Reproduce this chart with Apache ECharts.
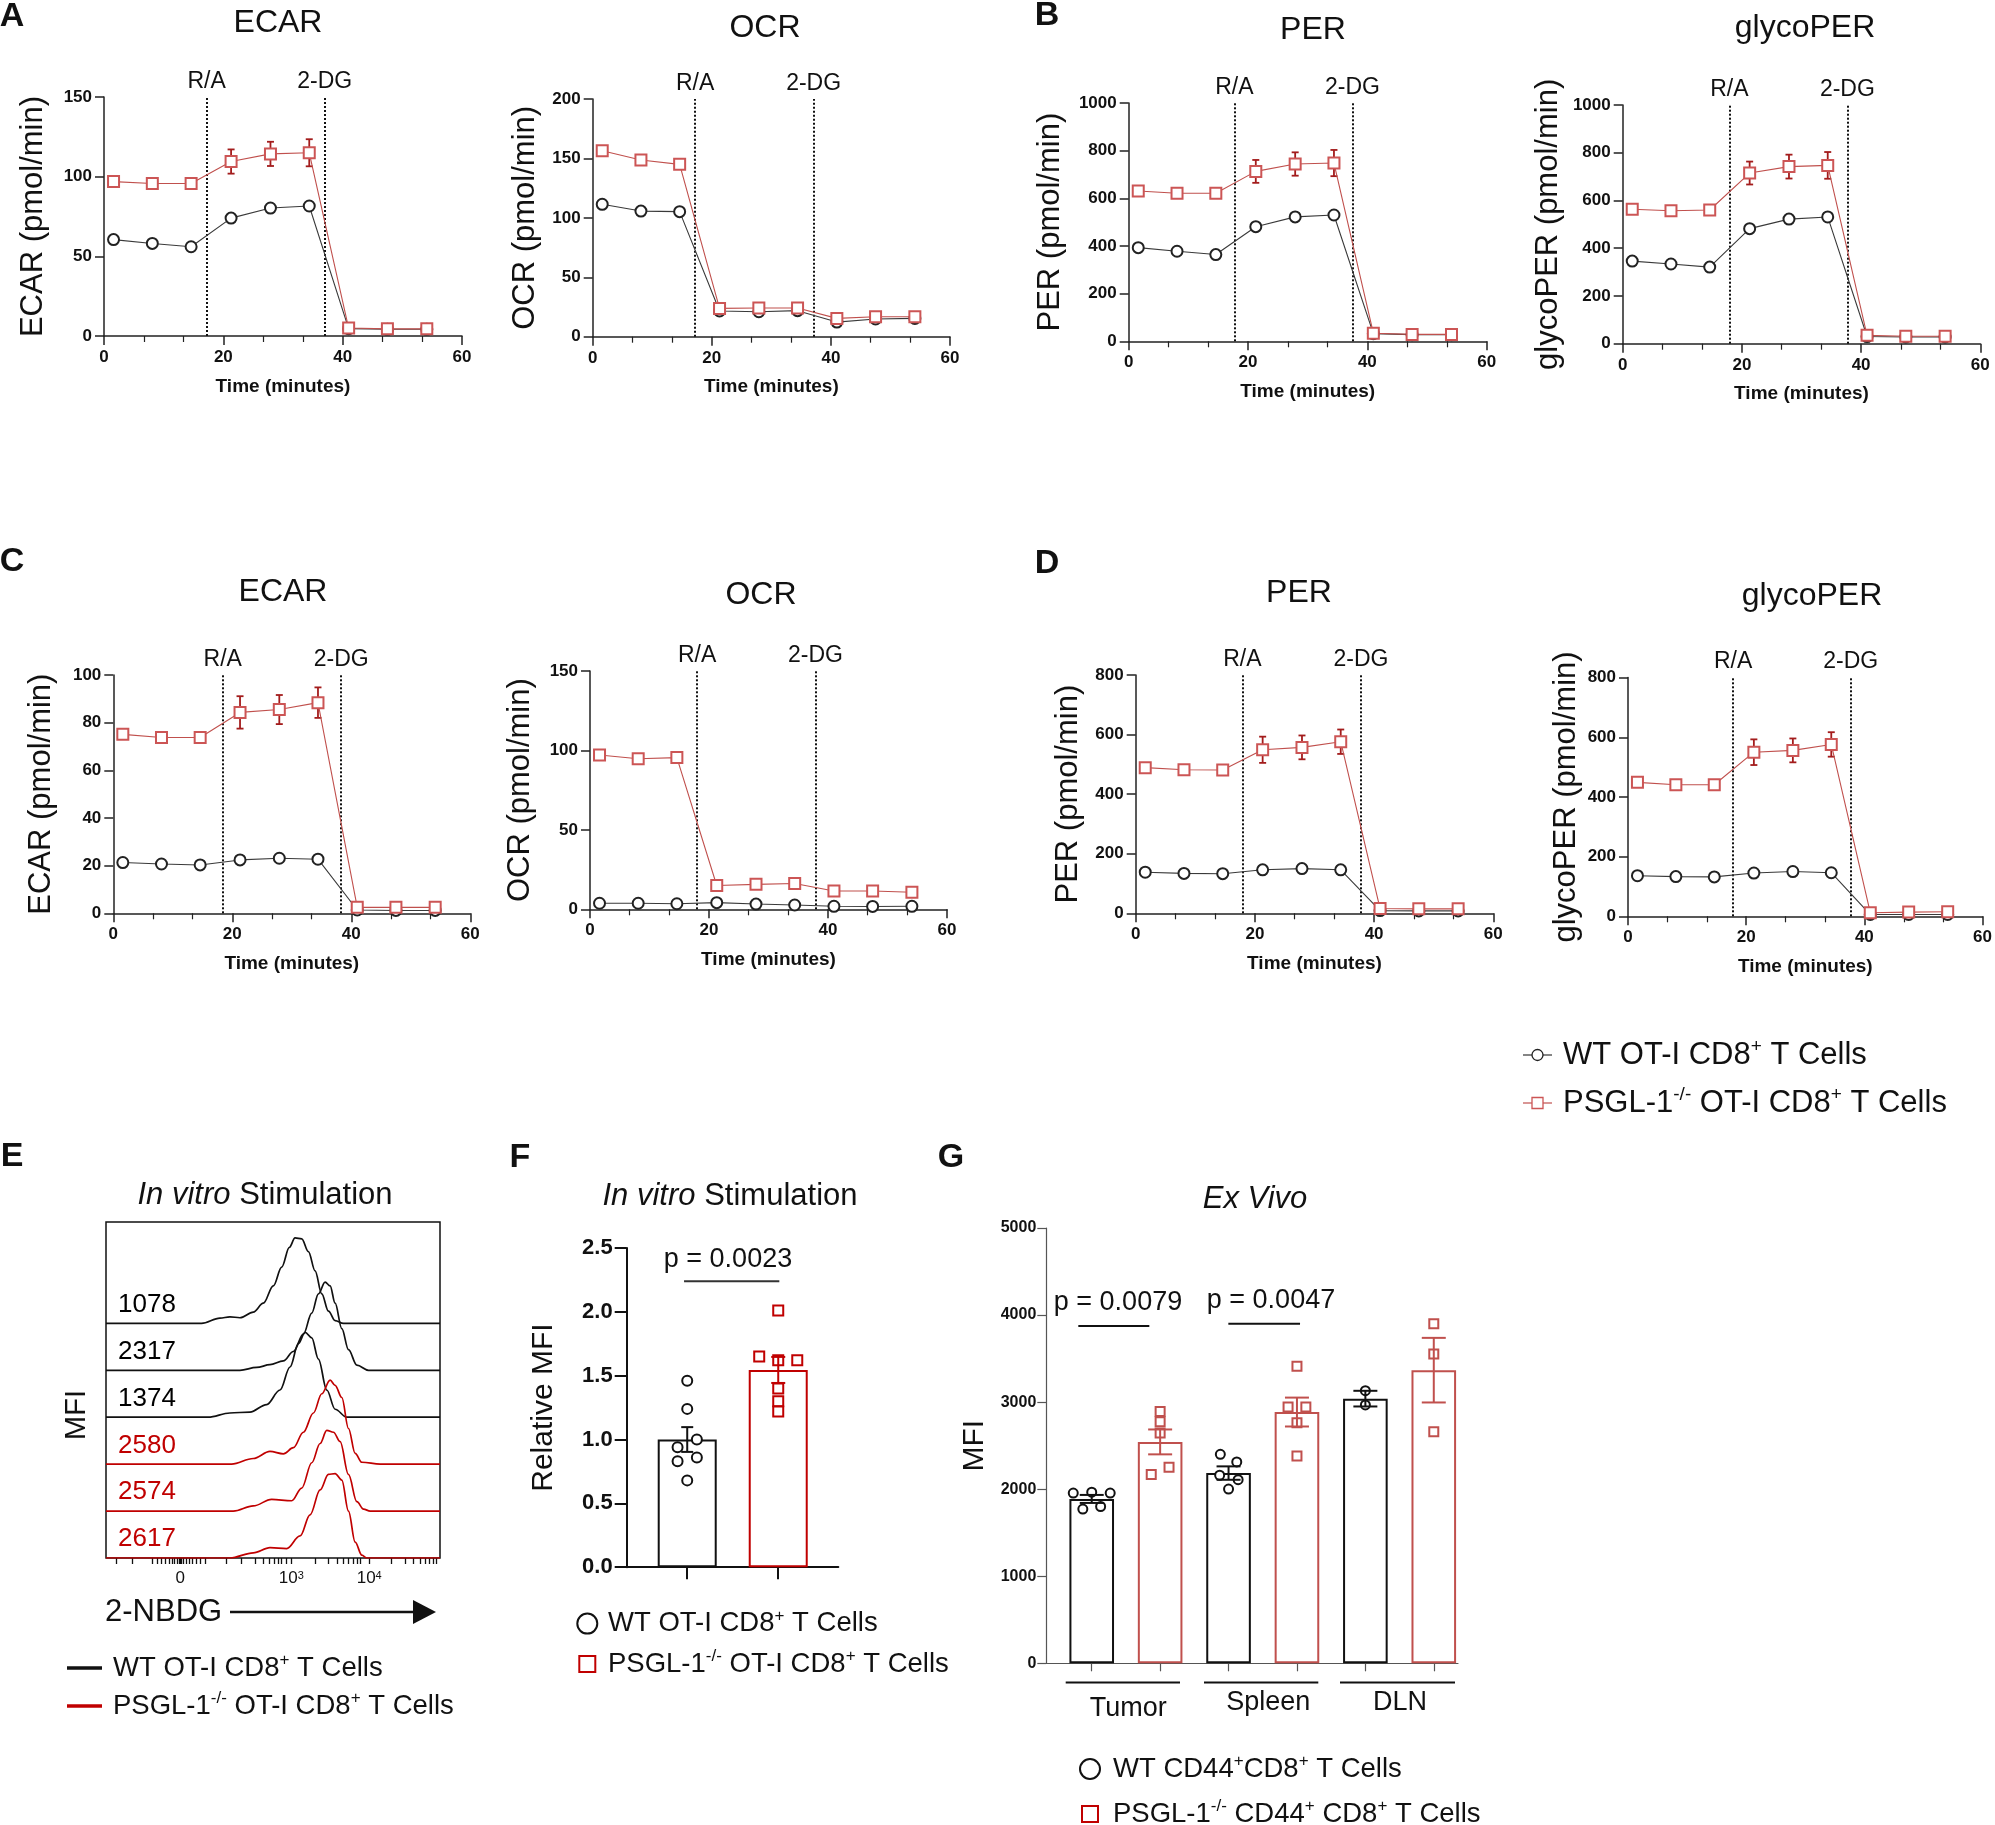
<!DOCTYPE html>
<html>
<head>
<meta charset="UTF-8">
<title>PSGL-1 metabolism figure</title>
<style>
  html, body { margin: 0; padding: 0; background: #fff; }
  #main { width: 1995px; height: 1825px; }
</style>
<script src="https://cdn.jsdelivr.net/npm/echarts@6/dist/echarts.min.js"></script>
</head>
<body>
<div id="main"></div>
<script>
// ---------- Seahorse measurement times (minutes) ----------
var times = [1.6, 8.1, 14.6, 21.3, 27.9, 34.4, 41.0, 47.5, 54.1];

// A - ECAR / OCR
var ecarA_wt = [60.5, 58.1, 56.0, 74.0, 80.3, 81.6, 4.6, 4.2, 4.2];
var ecarA_wtSem = [1.5, 1.2, 1.2, 2.5, 2.5, 2.5, 0.8, 0.8, 0.8];
var ecarA_ko = [96.9, 95.7, 95.7, 109.5, 114.3, 115.0, 5.0, 4.5, 4.5];
var ecarA_koSem = [1.2, 1.0, 1.0, 7.6, 7.6, 8.5, 0.8, 0.8, 0.8];
var ocrA_wt = [111.4, 105.7, 105.2, 21.6, 21.0, 21.9, 12.3, 14.9, 15.4];
var ocrA_wtSem = [1.5, 1.5, 1.5, 1.0, 1.0, 1.0, 1.0, 1.0, 1.0];
var ocrA_ko = [156.5, 148.7, 145.0, 23.8, 24.1, 24.1, 15.4, 16.8, 16.8];
var ocrA_koSem = [1.5, 1.5, 1.5, 1.0, 1.0, 1.0, 1.0, 1.0, 1.0];

// B - PER / glycoPER
var perB_wt = [393, 378, 364, 481, 522, 530, 32, 28, 28];
var perB_wtSem = [8, 8, 8, 15, 15, 15, 3, 3, 3];
var perB_ko = [631, 621, 621, 713, 744, 748, 34, 29, 29];
var perB_koSem = [8, 8, 8, 48, 49, 55, 3, 3, 3];
var gperB_wt = [346, 334, 321, 482, 522, 531, 30, 28, 28];
var gperB_wtSem = [8, 8, 8, 15, 15, 15, 3, 3, 3];
var gperB_ko = [563, 557, 560, 715, 742, 747, 35, 31, 31];
var gperB_koSem = [8, 8, 8, 48, 50, 56, 3, 3, 3];

// C - ECAR / OCR
var ecarC_wt = [21.3, 20.7, 20.3, 22.4, 23.1, 22.7, 1.4, 1.2, 1.2];
var ecarC_wtSem = [1.2, 1.2, 1.2, 0.6, 0.6, 0.6, 0.3, 0.3, 0.3];
var ecarC_ko = [75.1, 73.8, 73.8, 84.3, 85.5, 88.4, 2.5, 2.5, 2.5];
var ecarC_koSem = [0.8, 0.8, 0.8, 6.8, 6.1, 6.4, 0.4, 0.4, 0.4];
var ocrC_wt = [3.8, 3.8, 3.5, 4.2, 3.3, 2.7, 1.9, 1.8, 1.9];
var ocrC_wtSem = [0.3, 0.3, 0.3, 0.3, 0.3, 0.3, 0.2, 0.2, 0.2];
var ocrC_ko = [97.1, 94.8, 95.5, 15.0, 15.7, 16.2, 11.5, 11.5, 10.7];
var ocrC_koSem = [2.4, 2.4, 2.4, 0.8, 0.8, 0.8, 0.6, 0.6, 0.6];

// D - PER / glycoPER
var perD_wt = [138, 134, 133, 146, 150, 146, 9, 8, 8];
var perD_wtSem = [4, 4, 4, 4, 4, 4, 2, 2, 2];
var perD_ko = [489, 482, 481, 549, 557, 576, 16, 15, 15];
var perD_koSem = [6, 6, 6, 44, 40, 41, 2, 2, 2];
var gperD_wt = [136, 133, 132, 145, 150, 146, 6, 6, 6];
var gperD_wtSem = [4, 4, 4, 4, 4, 4, 2, 2, 2];
var gperD_ko = [449, 441, 441, 550, 556, 576, 12, 14, 15];
var gperD_koSem = [6, 6, 6, 43, 40, 41, 2, 2, 2];

// injection times (R/A, 2-DG) as drawn in each panel
var injA1 = [17.2, 37.0], injA2 = [17.2, 37.1], injB1 = [17.7, 37.5], injB2 = [17.9, 37.7];
var injC1 = [18.4, 38.3], injC2 = [18.0, 37.9], injD1 = [17.9, 37.8], injD2 = [17.8, 37.7];

// E - 2-NBDG histograms (x: display channel 0-100, y: relative height)
var histMfi = ['1078', '2317', '1374', '2580', '2574', '2617'];
var histKo = [false, false, false, true, true, true];
var hist1 = [[0,0],[28.6,0],[34.1,0.11],[37.1,0.14],[40.1,0.12],[44.1,0.24],[47.1,0.43],[50.1,0.8],[52.6,1.2],[54.9,1.62],[56.6,1.82],[58.6,1.8],[60.6,1.53],[62.6,1.12],[64.6,0.63],[66.6,0.26],[68.6,0.06],[71.1,0],[100,0]];
var hist2 = [[0,0],[40.1,0],[45.1,0.06],[49.1,0.12],[53.1,0.2],[56.1,0.4],[59.1,0.77],[61.6,1.22],[63.6,1.63],[65.6,1.88],[67.1,1.8],[68.6,1.43],[70.6,0.89],[72.6,0.44],[75.1,0.11],[78.6,0],[100,0]];
var hist3 = [[0,0],[30.6,0],[37.1,0.09],[43.1,0.11],[48.1,0.27],[52.1,0.58],[55.1,1.07],[57.6,1.57],[59.6,1.81],[61.6,1.69],[63.6,1.24],[66.1,0.58],[68.6,0.17],[72.1,0],[100,0]];
var hist4 = [[0,0],[37.6,0],[44.1,0.12],[49.1,0.27],[53.1,0.22],[56.1,0.35],[59.1,0.68],[62.1,1.09],[64.6,1.5],[67.1,1.79],[68.6,1.68],[70.6,1.42],[72.6,0.76],[74.6,0.23],[76.6,0.04],[82.1,0],[100,0]];
var hist5 = [[0,0],[38.1,0],[44.1,0.11],[49.6,0.25],[55.6,0.22],[58.6,0.49],[61.6,1.03],[64.1,1.44],[66.1,1.72],[68.1,1.68],[70.1,1.48],[72.6,0.78],[75.1,0.2],[77.1,0.04],[79.1,0],[100,0]];
var hist6 = [[0,0],[37.1,0],[44.1,0.11],[49.1,0.22],[54.1,0.2],[58.1,0.47],[61.1,0.92],[64.1,1.45],[66.6,1.78],[68.6,1.8],[70.6,1.66],[72.6,1.0],[74.6,0.34],[76.6,0.06],[78.1,0],[100,0]];
var histCurves = [hist1, hist2, hist3, hist4, hist5, hist6];
var eTicks = [3.2, 8.0, 13.8, 15.3, 16.6, 17.8, 18.8, 19.7, 20.5, 21.2, 21.8, 22.2, 22.6, 23.2, 23.9, 24.8, 25.8, 27.0, 28.3, 29.6,
  36.1, 40.6, 44.6, 47.1, 48.9, 50.3, 51.6, 52.6, 53.9, 55.5, 62.6, 66.6, 69.3, 71.1, 72.6, 73.9, 75.1, 76.0, 78.8,
  85.5, 89.5, 92.0, 94.0, 95.5, 96.8, 98.0, 99.0];
var eLabelVals = [22.2, 55.5, 78.8];
var eLabelText = ['0', '10{s|3}', '10{s|4}'];

// F - relative MFI, in vitro
var fMean = [1.00, 1.545];
var fSem = [0.097, 0.102];
var fWtPoints = [1.46, 1.24, 0.94, 1.00, 0.83, 0.86, 0.68];
var fWtSpread = [0, 0, -0.106, 0.106, -0.106, 0.106, 0];
var fKoPoints = [2.01, 1.65, 1.62, 1.62, 1.40, 1.30, 1.22];
var fKoSpread = [0, -0.209, 0.209, 0, 0, 0, 0];

// G - MFI ex vivo
var gTissues = ['Tumor', 'Spleen', 'DLN'];
var gWtMean = [1888, 2185, 3040];
var gWtSem = [46, 77, 90];
var gKoMean = [2543, 2886, 3367];
var gKoSem = [143, 166, 371];
var gWtPoints = [[1955, 1965, 1955, 1771, 1801], [2400, 2313, 2160, 2109, 2001], [3132, 2968]];
var gWtSpread = [[-0.27, 0, 0.27, -0.13, 0.13], [-0.12, 0.12, -0.13, 0.14, 0], [0, 0]];
var gKoPoints = [[2892, 2774, 2646, 2252, 2170], [3413, 2943, 2943, 2764, 2380], [3900, 3552, 2661]];
var gKoSpread = [[0, 0, 0, 0.13, -0.13], [0, -0.13, 0.13, 0, 0], [0, 0, 0]];

// ---------- styling ----------
var FONT = '"Liberation Sans", Arial, Helvetica, sans-serif';
var INK = '#111';
var RED = '#c0504d';
var RED_DARK = '#a31c1c';
var DEEP_RED = '#c00000';

var linePanels = [
  {x: 104, y: 97, w: 358, h: 239, max: 150, step: 50, name: 'ECAR (pmol/min)', gap: 55, wt: ecarA_wt, wtSem: ecarA_wtSem, ko: ecarA_ko, koSem: ecarA_koSem, inj: injA1},
  {x: 592.7, y: 99, w: 357.3, h: 237.7, max: 200, step: 50, name: 'OCR (pmol/min)', gap: 52, wt: ocrA_wt, wtSem: ocrA_wtSem, ko: ocrA_ko, koSem: ocrA_koSem, inj: injA2},
  {x: 1128.7, y: 103, w: 358, h: 238.3, max: 1000, step: 200, name: 'PER (pmol/min)', gap: 63, wt: perB_wt, wtSem: perB_wtSem, ko: perB_ko, koSem: perB_koSem, inj: injB1},
  {x: 1622.7, y: 105, w: 357.6, h: 238.7, max: 1000, step: 200, name: 'glycoPER (pmol/min)', gap: 59, wt: gperB_wt, wtSem: gperB_wtSem, ko: gperB_ko, koSem: gperB_koSem, inj: injB2},
  {x: 113.3, y: 675, w: 357, h: 238.3, max: 100, step: 20, name: 'ECAR (pmol/min)', gap: 56, wt: ecarC_wt, wtSem: ecarC_wtSem, ko: ecarC_ko, koSem: ecarC_koSem, inj: injC1},
  {x: 590, y: 671, w: 357, h: 238.3, max: 150, step: 50, name: 'OCR (pmol/min)', gap: 54, wt: ocrC_wt, wtSem: ocrC_wtSem, ko: ocrC_ko, koSem: ocrC_koSem, inj: injC2},
  {x: 1135.7, y: 675, w: 357.6, h: 238.3, max: 800, step: 200, name: 'PER (pmol/min)', gap: 52, wt: perD_wt, wtSem: perD_wtSem, ko: perD_ko, koSem: perD_koSem, inj: injD1},
  {x: 1628, y: 677.6, w: 357.7, h: 238.7, max: 800, step: 200, name: 'glycoPER (pmol/min)', gap: 46, wt: gperD_wt, wtSem: gperD_wtSem, ko: gperD_ko, koSem: gperD_koSem, inj: injD2}
];

function zip(xs, ys) { return xs.map(function (x, i) { return [x, ys[i]]; }); }
function errData(xs, ys, es) { return xs.map(function (x, i) { return [x, ys[i] - es[i], ys[i] + es[i]]; }); }
function plain(v) { return String(v); }

function errorBars(axis, data, color, half, width, z) {
  return {
    type: 'custom', xAxisIndex: axis, yAxisIndex: axis, data: data, silent: true, z: z, clip: false,
    renderItem: function (params, api) {
      var top = api.coord([api.value(0), api.value(2)]);
      var bot = api.coord([api.value(0), api.value(1)]);
      var st = {stroke: color, lineWidth: width};
      return {type: 'group', children: [
        {type: 'line', shape: {x1: top[0], y1: top[1], x2: bot[0], y2: bot[1]}, style: st},
        {type: 'line', shape: {x1: top[0] - half, y1: top[1], x2: top[0] + half, y2: top[1]}, style: st},
        {type: 'line', shape: {x1: bot[0] - half, y1: bot[1], x2: bot[0] + half, y2: bot[1]}, style: st}
      ]};
    }
  };
}
function bracket(axis, pts, color) {
  return {
    type: 'line', xAxisIndex: axis, yAxisIndex: axis, data: pts, symbol: 'none', silent: true, z: 3,
    lineStyle: {color: color, width: 2}
  };
}

var grids = [], xAxes = [], yAxes = [], series = [];
var axisLineStyle = {color: '#222', width: 1.5};

linePanels.forEach(function (p, i) {
  grids.push({left: p.x, top: p.y, width: p.w, height: p.h});
  xAxes.push({
    gridIndex: i, type: 'value', min: 0, max: 60, interval: 20,
    axisLine: {onZero: false, lineStyle: axisLineStyle},
    axisTick: {length: 9, lineStyle: axisLineStyle},
    minorTick: {show: true, splitNumber: 3, length: 6, lineStyle: {color: '#222', width: 1.2}},
    splitLine: {show: false},
    axisLabel: {fontSize: 17, fontWeight: 'bold', color: INK, margin: 13, fontFamily: FONT},
    name: 'Time (minutes)', nameLocation: 'middle', nameGap: 41,
    nameTextStyle: {fontSize: 19, fontWeight: 'bold', color: INK, fontFamily: FONT}
  });
  yAxes.push({
    gridIndex: i, type: 'value', min: 0, max: p.max, interval: p.step,
    axisLine: {show: true, onZero: false, lineStyle: axisLineStyle},
    axisTick: {show: true, length: 9, lineStyle: axisLineStyle},
    splitLine: {show: false},
    axisLabel: {fontSize: 17, fontWeight: 'bold', color: INK, margin: 12, fontFamily: FONT, formatter: plain},
    name: p.name, nameLocation: 'middle', nameGap: p.gap,
    nameTextStyle: {fontSize: 31, color: INK, fontFamily: FONT}
  });
  series.push({
    type: 'line', xAxisIndex: i, yAxisIndex: i, data: zip(times, p.wt),
    symbol: 'emptyCircle', symbolSize: 11, z: 5,
    lineStyle: {color: '#3a3a3a', width: 1.1}, itemStyle: {color: '#222', borderWidth: 1.3},
    markLine: {
      silent: true, symbol: ['none', 'none'],
      lineStyle: {color: INK, type: [2, 2], width: 2},
      label: {show: true, position: 'end', formatter: '{b}', fontSize: 23, color: INK, distance: 4, fontFamily: FONT},
      data: [{name: 'R/A', xAxis: p.inj[0]}, {name: '2-DG', xAxis: p.inj[1]}]
    }
  });
  series.push({
    type: 'line', xAxisIndex: i, yAxisIndex: i, data: zip(times, p.ko),
    symbol: 'emptyRect', symbolSize: 11, z: 5,
    lineStyle: {color: RED, width: 1.1}, itemStyle: {color: '#cc5555', borderWidth: 1.3}
  });
  series.push(errorBars(i, errData(times, p.wt, p.wtSem), '#222', 3.5, 1.6, 4));
  series.push(errorBars(i, errData(times, p.ko, p.koSem), RED_DARK, 3.5, 1.8, 4));
});

// ---------- E : histograms (grid 8) ----------
var E = 8;
grids.push({left: 106, top: 1222, width: 334, height: 336, show: true, borderColor: INK, borderWidth: 1.5, backgroundColor: 'transparent'});
xAxes.push({
  gridIndex: E, type: 'value', min: 0, max: 100, position: 'bottom',
  axisLine: {show: false, onZero: false},
  axisTick: {show: true, customValues: eTicks, length: 6, lineStyle: {color: INK, width: 1.3}},
  axisLabel: {
    show: true, customValues: eLabelVals, margin: 12, fontSize: 17, color: INK, fontFamily: FONT,
    formatter: function (v) {
      var k = 0, best = 1e9;
      eLabelVals.forEach(function (lv, j) { if (Math.abs(lv - v) < best) { best = Math.abs(lv - v); k = j; } });
      return eLabelText[k];
    },
    rich: {s: {fontSize: 11, color: INK, verticalAlign: 'top', lineHeight: 10, fontFamily: FONT}}
  },
  splitLine: {show: false}
});
yAxes.push({gridIndex: E, type: 'value', min: 0, max: 7.16, show: false});
histCurves.forEach(function (c, r) {
  var base = 5 - r;
  series.push({
    type: 'line', xAxisIndex: E, yAxisIndex: E, symbol: 'none', smooth: 0.35, smoothMonotone: 'x',
    data: c.map(function (pt) { return [pt[0], pt[1] + base]; }),
    lineStyle: {color: histKo[r] ? DEEP_RED : '#111', width: 1.7}, z: 4
  });
});
series.push({
  type: 'scatter', xAxisIndex: E, yAxisIndex: E, symbolSize: 0, silent: true, z: 6,
  itemStyle: {opacity: 1},
  data: histMfi.map(function (m, r) { return [3.6, 5 - r + 0.4]; }),
  label: {
    show: true, position: 'right', distance: 0,
    formatter: function (p) { return (histKo[p.dataIndex] ? '{k|' : '{w|') + histMfi[p.dataIndex] + '}'; },
    rich: {
      w: {fontSize: 26, fontFamily: FONT, color: '#000'},
      k: {fontSize: 26, fontFamily: FONT, color: DEEP_RED}
    }
  }
});

// ---------- F : relative MFI (grid 9) ----------
var F = 9;
grids.push({left: 626.7, top: 1248, width: 211.6, height: 319.2});
xAxes.push({
  gridIndex: F, type: 'value', min: -0.665, max: 1.66,
  axisLine: {onZero: false, lineStyle: {color: INK, width: 2}},
  axisTick: {show: true, customValues: [0, 1], length: 12, lineStyle: {color: INK, width: 2}},
  axisLabel: {show: false}, splitLine: {show: false}
});
yAxes.push({
  gridIndex: F, type: 'value', min: 0, max: 2.5, interval: 0.5,
  axisLine: {show: true, onZero: false, lineStyle: {color: INK, width: 2}},
  axisTick: {show: true, length: 12, lineStyle: {color: INK, width: 2}},
  splitLine: {show: false},
  axisLabel: {fontSize: 22, fontWeight: 'bold', color: INK, margin: 14, fontFamily: FONT,
    formatter: function (v) { return v.toFixed(1); }},
  name: 'Relative MFI', nameLocation: 'middle', nameGap: 68,
  nameTextStyle: {fontSize: 30, color: INK, fontFamily: FONT}
});
series.push({
  type: 'bar', xAxisIndex: F, yAxisIndex: F, barWidth: 59, z: 2,
  itemStyle: {color: '#fff', borderWidth: 2},
  data: [
    {value: [0, fMean[0]], itemStyle: {borderColor: INK}},
    {value: [1, fMean[1]], itemStyle: {borderColor: DEEP_RED}}
  ]
});
series.push(bracket(F, [[-0.035, 2.24], [1.012, 2.24]], '#333'));
series.push({
  type: 'scatter', xAxisIndex: F, yAxisIndex: F, symbol: 'emptyCircle', symbolSize: 10, z: 5,
  itemStyle: {color: INK, borderWidth: 1.8, opacity: 1},
  data: fWtPoints.map(function (v, k) { return [0 + fWtSpread[k], v]; })
});
series.push({
  type: 'scatter', xAxisIndex: F, yAxisIndex: F, symbol: 'emptyRect', symbolSize: 10, z: 5,
  itemStyle: {color: DEEP_RED, borderWidth: 1.8, opacity: 1},
  data: fKoPoints.map(function (v, k) { return [1 + fKoSpread[k], v]; })
});
series.push(errorBars(F, [[0, fMean[0] - fSem[0], fMean[0] + fSem[0]]], INK, 6, 2, 6));
series.push(errorBars(F, [[1, fMean[1] - fSem[1], fMean[1] + fSem[1]]], DEEP_RED, 7, 2, 6));

// ---------- G : ex vivo MFI (grid 10) ----------
var G = 10;
grids.push({left: 1046.3, top: 1228, width: 411.7, height: 435.3});
xAxes.push({
  gridIndex: G, type: 'value', min: -0.664, max: 5.354,
  axisLine: {onZero: false, lineStyle: {color: '#555', width: 1.2}},
  axisTick: {show: true, customValues: [0, 1, 2, 3, 4, 5], length: 8, lineStyle: {color: '#555', width: 1.2}},
  axisLabel: {show: false}, splitLine: {show: false}
});
yAxes.push({
  gridIndex: G, type: 'value', min: 0, max: 5000, interval: 1000,
  axisLine: {show: true, onZero: false, lineStyle: {color: '#555', width: 1.2}},
  axisTick: {show: true, length: 9, lineStyle: {color: '#555', width: 1.2}},
  splitLine: {show: false},
  axisLabel: {fontSize: 16, fontWeight: 'bold', color: INK, margin: 10, fontFamily: FONT, formatter: plain},
  name: 'MFI', nameLocation: 'middle', nameGap: 57,
  nameTextStyle: {fontSize: 30, color: INK, fontFamily: FONT}
});
var gBarData = [], gErrWt = [], gErrKo = [], gPtsWt = [], gPtsKo = [];
gTissues.forEach(function (t, i) {
  gBarData.push({value: [2 * i, gWtMean[i]], itemStyle: {borderColor: INK}});
  gBarData.push({value: [2 * i + 1, gKoMean[i]], itemStyle: {borderColor: RED}});
  gErrWt.push([2 * i, gWtMean[i] - gWtSem[i], gWtMean[i] + gWtSem[i]]);
  gErrKo.push([2 * i + 1, gKoMean[i] - gKoSem[i], gKoMean[i] + gKoSem[i]]);
  gWtPoints[i].forEach(function (v, k) { gPtsWt.push([2 * i + gWtSpread[i][k], v]); });
  gKoPoints[i].forEach(function (v, k) { gPtsKo.push([2 * i + 1 + gKoSpread[i][k], v]); });
});
series.push({
  type: 'bar', xAxisIndex: G, yAxisIndex: G, barWidth: 44.6, z: 2,
  itemStyle: {color: '#fff', borderWidth: 2}, data: gBarData
});
series.push(bracket(G, [[-0.196, 3874], [0.842, 3874]], INK));
series.push(bracket(G, [[1.997, 3900], [3.045, 3900]], INK));
series.push({
  type: 'scatter', xAxisIndex: G, yAxisIndex: G, symbol: 'emptyCircle', symbolSize: 9, z: 5,
  itemStyle: {color: INK, borderWidth: 1.4, opacity: 1}, data: gPtsWt
});
series.push({
  type: 'scatter', xAxisIndex: G, yAxisIndex: G, symbol: 'emptyRect', symbolSize: 9, z: 5,
  itemStyle: {color: RED, borderWidth: 1.4, opacity: 1}, data: gPtsKo
});
series.push(errorBars(G, gErrWt, INK, 12, 2, 6));
series.push(errorBars(G, gErrKo, RED, 12, 2, 6));

// ---------- text and decorations ----------
function txt(x, y, text, size, o) {
  o = o || {};
  return {
    type: 'text', x: x, y: y, rotation: o.rot || 0, silent: true, z: 50,
    style: {
      text: text, fontSize: size, fontFamily: FONT,
      fontWeight: o.bold ? 'bold' : 'normal', fontStyle: o.italic ? 'italic' : 'normal',
      fill: o.color || INK, align: o.align || 'center', verticalAlign: 'middle', rich: o.rich
    }
  };
}
function supRich(size) {
  return {
    n: {fontSize: size, fontFamily: FONT, fill: INK, lineHeight: size + 4},
    s: {fontSize: Math.round(size * 0.62), fontFamily: FONT, fill: INK, verticalAlign: 'top', lineHeight: Math.round(size * 0.72)},
    i: {fontSize: size, fontFamily: FONT, fill: INK, fontStyle: 'italic', lineHeight: size + 4}
  };
}
function line(x1, y1, x2, y2, color, w) {
  return {type: 'line', silent: true, z: 50, shape: {x1: x1, y1: y1, x2: x2, y2: y2}, style: {stroke: color, lineWidth: w}};
}
function circ(cx, cy, r, color, w) {
  return {type: 'circle', silent: true, z: 51, shape: {cx: cx, cy: cy, r: r}, style: {fill: '#fff', stroke: color, lineWidth: w}};
}
function box(cx, cy, s, color, w) {
  return {type: 'rect', silent: true, z: 51, shape: {x: cx - s / 2, y: cy - s / 2, width: s, height: s}, style: {fill: '#fff', stroke: color, lineWidth: w}};
}

var wtLabel = '{n|WT OT-I CD8}{s|+}{n| T Cells}';
var koLabel = '{n|PSGL-1}{s|-/-}{n| OT-I CD8}{s|+}{n| T Cells}';

var graphics = [
  // panel letters
  txt(12, 17, 'A', 34, {bold: true}), txt(1047, 16, 'B', 34, {bold: true}),
  txt(12, 562, 'C', 34, {bold: true}), txt(1047, 564, 'D', 34, {bold: true}),
  txt(12, 1157, 'E', 34, {bold: true}), txt(520, 1158, 'F', 34, {bold: true}),
  txt(951, 1158, 'G', 34, {bold: true}),
  // chart titles
  txt(278, 23, 'ECAR', 32), txt(765, 28, 'OCR', 32), txt(1313, 30, 'PER', 32), txt(1805, 28, 'glycoPER', 32),
  txt(283, 592, 'ECAR', 32), txt(761, 595, 'OCR', 32), txt(1299, 593, 'PER', 32), txt(1812, 596, 'glycoPER', 32),
  txt(265, 1195, '{i|In vitro}{n| Stimulation}', 31, {rich: supRich(31)}),
  txt(730, 1196, '{i|In vitro}{n| Stimulation}', 31, {rich: supRich(31)}),
  txt(1255, 1199, 'Ex Vivo', 31, {italic: true}),
  // seahorse legend
  line(1523, 1055, 1552, 1055, '#333', 1.2), circ(1537.5, 1055, 5.5, '#222', 1.3),
  txt(1563, 1055, wtLabel, 31, {align: 'left', rich: supRich(31)}),
  line(1523, 1103, 1552, 1103, RED, 1.2), box(1537.5, 1103, 11, '#cc5555', 1.3),
  txt(1563, 1103, koLabel, 31, {align: 'left', rich: supRich(31)}),
  // E extras
  txt(77, 1415, 'MFI', 29, {rot: Math.PI / 2}),
  txt(105, 1612, '2-NBDG', 31, {align: 'left'}),
  line(230, 1612, 416, 1612, INK, 2.5),
  {type: 'polygon', silent: true, z: 50, shape: {points: [[413, 1600], [436, 1612], [413, 1624]]}, style: {fill: INK}},
  line(67, 1668, 102, 1668, INK, 3.5),
  txt(113, 1668, wtLabel, 27.5, {align: 'left', rich: supRich(27.5)}),
  line(67, 1706, 102, 1706, DEEP_RED, 3.5),
  txt(113, 1706, koLabel, 27.5, {align: 'left', rich: supRich(27.5)}),
  // F extras
  txt(728, 1260, 'p = 0.0023', 27),
  circ(587.3, 1623.6, 10, INK, 2), txt(608, 1623.6, wtLabel, 27.5, {align: 'left', rich: supRich(27.5)}),
  box(587.3, 1664, 16, DEEP_RED, 2), txt(608, 1664, koLabel, 27.5, {align: 'left', rich: supRich(27.5)}),
  // G extras
  txt(1118, 1303, 'p = 0.0079', 27), txt(1271, 1301, 'p = 0.0047', 27),
  line(1065.7, 1682.4, 1180, 1682.4, INK, 2), line(1204, 1682.4, 1318.3, 1682.4, INK, 2), line(1340, 1682.4, 1455, 1682.4, INK, 2),
  txt(1128.3, 1709, gTissues[0], 27), txt(1268.3, 1703, gTissues[1], 27), txt(1400, 1703, gTissues[2], 27),
  circ(1090, 1769, 10, INK, 2),
  txt(1113, 1769, '{n|WT CD44}{s|+}{n|CD8}{s|+}{n| T Cells}', 27.5, {align: 'left', rich: supRich(27.5)}),
  box(1090, 1814, 16, DEEP_RED, 2),
  txt(1113, 1814, '{n|PSGL-1}{s|-/-}{n| CD44}{s|+}{n| CD8}{s|+}{n| T Cells}', 27.5, {align: 'left', rich: supRich(27.5)})
];

var chart = echarts.init(document.getElementById('main'));
chart.setOption({
  animation: false,
  backgroundColor: '#fff',
  textStyle: {fontFamily: FONT},
  grid: grids,
  xAxis: xAxes,
  yAxis: yAxes,
  series: series,
  graphic: graphics
});
</script>
</body>
</html>
